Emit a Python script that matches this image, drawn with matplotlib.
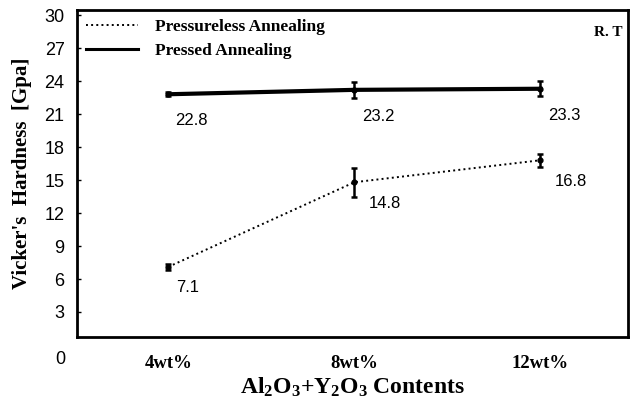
import numpy as np
import matplotlib
matplotlib.use("Agg")
import matplotlib.pyplot as plt
from matplotlib.lines import Line2D

## data
contents = ["4wt%", "8wt%", "12wt%"]
pressureless = [7.1, 14.8, 16.8]
pressureless_err = [0.3, 1.3, 0.6]
pressed = [22.8, 23.2, 23.3]
pressed_err = [0.2, 0.7, 0.7]
y_ticks = [3, 6, 9, 12, 15, 18, 21, 24, 27, 30]

plt.rcParams['mathtext.fontset'] = 'custom'
plt.rcParams['mathtext.rm'] = 'Liberation Serif:bold'
plt.rcParams['mathtext.it'] = 'Liberation Serif:bold'
plt.rcParams['mathtext.bf'] = 'Liberation Serif:bold'

serif = 'Liberation Serif'
sans = 'Liberation Sans'

fig = plt.figure(figsize=(6.34, 4.05), dpi=100)
ax = fig.add_axes([0.1215, 0.168, 0.869, 0.807])

x = np.arange(1, len(contents) + 1)

##-------------------------------------------------------------------------
## series
##-------------------------------------------------------------------------
ax.errorbar(x, pressureless, yerr=pressureless_err, color='k', ls=':',
            lw=1.4, marker='o', ms=3.5, capsize=2.5, elinewidth=1.8,
            capthick=1.8)
ax.errorbar(x, pressed, yerr=pressed_err, color='k', ls='-',
            lw=3.0, marker='o', ms=3.5, capsize=2.5, elinewidth=1.8,
            capthick=1.8)

## value labels, below-right of each point
for xi, v in zip(x, pressed):
    ax.annotate("{:.1f}".format(v), xy=(xi, v), xytext=(17, -19),
                textcoords='offset points', ha='center', va='center',
                fontsize=12, family=sans)
for xi, v, dx in zip(x, pressureless, [14, 22, 22]):
    ax.annotate("{:.1f}".format(v), xy=(xi, v), xytext=(dx, -15),
                textcoords='offset points', ha='center', va='center',
                fontsize=12, family=sans)

##-------------------------------------------------------------------------
## axes
##-------------------------------------------------------------------------
ax.set_xlim(0.51, 3.47)
ax.set_ylim(0.73, 30.45)
ax.set_xticks(x)
ax.set_xticklabels(contents, family=serif, fontweight='bold', fontsize=13.5)
ax.set_yticks(y_ticks)
ax.set_yticklabels([str(t) for t in y_ticks], family=sans, fontsize=13)
ax.tick_params(axis='x', length=0, pad=13)
ax.tick_params(axis='y', direction='in', length=3, width=1, pad=9)
ax.annotate("0", xy=(0, 0), xycoords='axes fraction', xytext=(-12, -16),
            textcoords='offset points', ha='center', va='center',
            fontsize=13, family=sans)
for s in ax.spines.values():
    s.set_linewidth(2)

ax.set_ylabel("Vicker's  Hardness  [Gpa]", family=serif, fontweight='bold',
              fontsize=15, labelpad=9)
ax.set_xlabel("Al$_2$O$_3$+Y$_2$O$_3$ Contents", family=serif,
              fontweight='bold', fontsize=17, labelpad=3)

ax.text(0.99, 0.933, "R. T", transform=ax.transAxes, ha='right',
        va='center', family=serif, fontweight='bold', fontsize=11)

handles = [Line2D([], [], color='k', ls=':', lw=1.4),
           Line2D([], [], color='k', ls='-', lw=2.2)]
ax.legend(handles, ["Pressureless Annealing", "Pressed Annealing"],
          loc='upper left', frameon=False, handlelength=3.0,
          borderaxespad=0.1, handletextpad=1.0, labelspacing=0.45,
          prop={'family': serif, 'weight': 'bold', 'size': 12.5})

plt.savefig("out.png", dpi=100)
